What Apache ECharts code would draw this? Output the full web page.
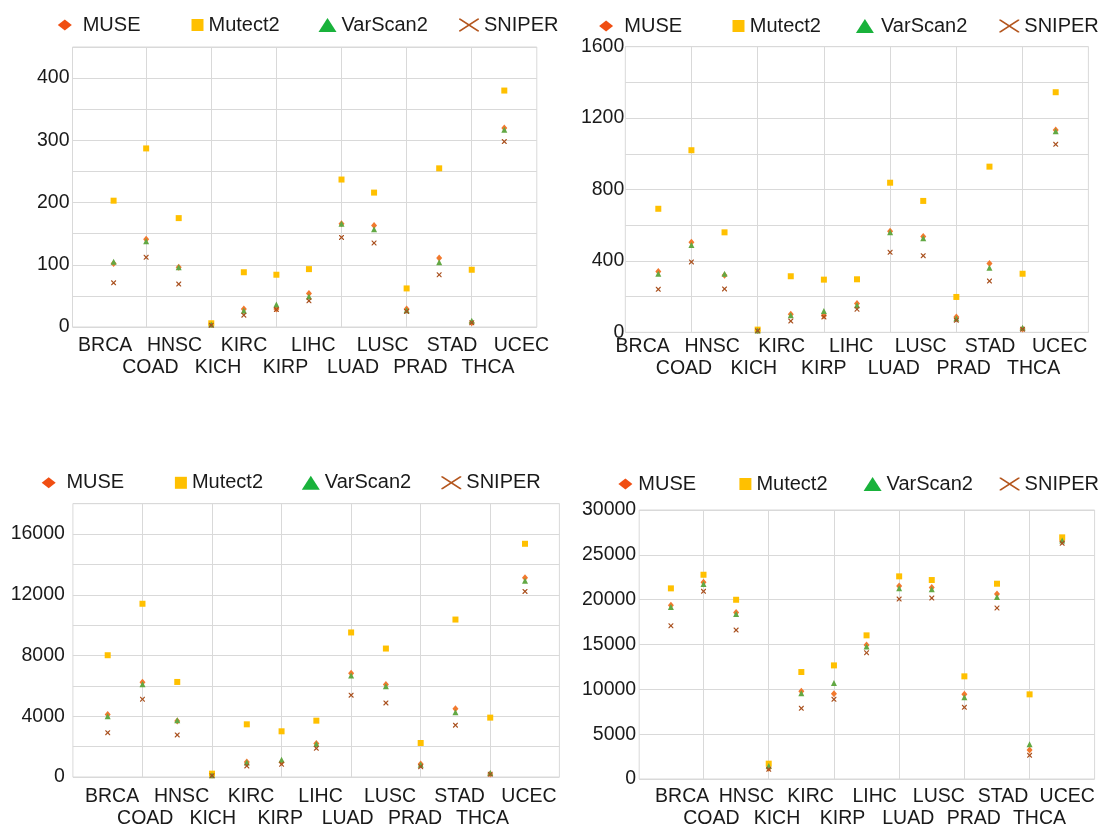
<!DOCTYPE html>
<html><head><meta charset="utf-8">
<script src="https://cdn.jsdelivr.net/npm/echarts@6/dist/echarts.min.js"></script>
<style>html,body{margin:0;padding:0;background:#fff}#c{width:1099px;height:829px}</style>
</head><body><div id="c"></div>
<script>
// ---- data ----
const categories = ['BRCA','COAD','HNSC','KICH','KIRC','KIRP','LIHC','LUAD','LUSC','PRAD','STAD','THCA','UCEC'];
const seriesNames = ['MUSE','Mutect2','VarScan2','SNIPER'];

// panel 1 (top-left)
const p1MUSE     = [102, 141, 96, 4, 29, 29, 54, 166, 163, 29, 111, 7, 320];
const p1Mutect2  = [203, 287, 175, 6, 88, 84, 93, 237, 216, 62, 255, 92, 380];
const p1VarScan2 = [105, 138, 96, 4, 26, 36, 49, 166, 157, 27, 104, 10, 317];
const p1SNIPER   = [71, 112, 69, 3, 19, 28, 42, 144, 135, 25, 84, 7, 298];
const p1Ticks    = [0, 100, 200, 300, 400];

// panel 2 (top-right)
const p2MUSE     = [340, 504, 319, 10, 101, 93, 162, 566, 536, 86, 386, 18, 1133];
const p2Mutect2  = [692, 1020, 560, 15, 314, 295, 297, 838, 736, 198, 928, 328, 1345];
const p2VarScan2 = [328, 489, 328, 10, 95, 119, 151, 560, 527, 78, 362, 26, 1126];
const p2SNIPER   = [241, 394, 243, 8, 63, 86, 129, 448, 429, 67, 287, 17, 1053];
const p2Ticks    = [0, 400, 800, 1200, 1600];

// panel 3 (bottom-left)
const p3MUSE     = [4110, 6240, 3690, 110, 990, 970, 2200, 6840, 6090, 860, 4500, 200, 13120];
const p3Mutect2  = [8020, 11410, 6260, 220, 3470, 3010, 3710, 9520, 8460, 2240, 10370, 3910, 15360];
const p3VarScan2 = [4000, 6110, 3740, 110, 950, 1140, 2180, 6680, 5980, 810, 4260, 260, 12920];
const p3SNIPER   = [2920, 5120, 2770, 90, 730, 840, 1890, 5390, 4880, 680, 3410, 180, 12220];
const p3Ticks    = [0, 4000, 8000, 12000, 16000];

// panel 4 (bottom-right)
const p4MUSE     = [19370, 21930, 18580, 1190, 9780, 9510, 14940, 21520, 21370, 9440, 20630, 3240, 26540];
const p4Mutect2  = [21260, 22780, 19990, 1710, 11930, 12670, 16020, 22600, 22190, 11450, 21780, 9440, 26950];
const p4VarScan2 = [19180, 21740, 18400, 1450, 9550, 10700, 14790, 21260, 21150, 9110, 20290, 3870, 26600];
const p4SNIPER   = [17090, 20930, 16610, 1080, 7880, 8890, 14080, 20070, 20180, 7990, 19070, 2640, 26280];
const p4Ticks    = [0, 5000, 10000, 15000, 20000, 25000, 30000];

// ---- layout / style ----
const FONT = "'Liberation Sans', Arial, sans-serif";
const TXT = '#1a1a1a';
const GRIDC = '#d9d9d9';

function xPath(w, h, t) {
  const c = t * Math.sqrt(w*w + h*h) / 2;
  const a = c / h, b = c / w;
  const pts = [[a,0],[w/2,h/2-c/w],[w-a,0],[w,0],[w,b],[w/2+c/h,h/2],[w,h-b],[w,h],[w-a,h],[w/2,h/2+c/w],[a,h],[0,h],[0,h-b],[w/2-c/h,h/2],[0,b],[0,0]];
  return 'path://M' + pts.map(p => p[0].toFixed(2) + ',' + p[1].toFixed(2)).join('L') + 'Z';
}

const markStyle = {
  MUSE:     {symbol: 'diamond', size: [6, 7], color: '#F2792E'},
  Mutect2:  {symbol: 'rect', size: [6, 6], color: '#FFC000'},
  VarScan2: {symbol: 'triangle', size: [6, 6], color: '#62A844'},
  SNIPER:   {symbol: xPath(10, 10, 2.4), size: [5, 5], color: '#A9501E'}
};
const legendStyle = {
  MUSE:     {icon: 'path://M7,0L14,5.5L7,11L0,5.5Z', w: 14, h: 11, color: '#F04E12'},
  Mutect2:  {icon: 'path://M0,0L12,0L12,12L0,12Z', w: 12, h: 12, color: '#FFC000'},
  VarScan2: {icon: 'path://M9,0L18,14L0,14Z', w: 18, h: 14, color: '#19B23B'},
  SNIPER:   {icon: xPath(20, 13, 1.6), w: 20, h: 13, color: '#B4561E'}
};

const panels = [
  {vals: [p1MUSE, p1Mutect2, p1VarScan2, p1SNIPER], ticks: p1Ticks, yMax: 450, yStep: 50,
   frame: [72.5, 536.8, 47, 327], dataX: [113.6, 504.3], row1: [105.2, 521.4], row2: [116.7, 521.7],
   yMargin: 3, m1: 9, m2: 31, legY: 25, leg: [[70.7, 88.6], [197.5, 208.2], [327.5, 341], [469, 480.4]]},
  {vals: [p2MUSE, p2Mutect2, p2VarScan2, p2SNIPER], ticks: p2Ticks, yMax: 1600, yStep: 200,
   frame: [625.3, 1088.4, 46.7, 332.3], dataX: [658.3, 1055.7], row1: [642.7, 1059.6], row2: [649, 1068.6],
   yMargin: 1, m1: 4, m2: 26, legY: 26, leg: [[612.3, 630.5], [738.8, 750.1], [867, 883.1], [1009.3, 1022.4]]},
  {vals: [p3MUSE, p3Mutect2, p3VarScan2, p3SNIPER], ticks: p3Ticks, yMax: 18000, yStep: 2000,
   frame: [72.9, 559.4, 503.7, 777], dataX: [107.7, 525], row1: [112.1, 529], row2: [111.5, 516.3],
   yMargin: 8, m1: 10, m2: 34, legY: 482.8, leg: [[54.4, 72.1], [180.9, 191.6], [310.8, 324.8], [451.3, 463.2]]},
  {vals: [p4MUSE, p4Mutect2, p4VarScan2, p4SNIPER], ticks: p4Ticks, yMax: 30000, yStep: 5000,
   frame: [639.2, 1094.6, 510, 779], dataX: [670.9, 1062.2], row1: [682.2, 1067.2], row2: [678.5, 1072.3],
   yMargin: 3, m1: 8, m2: 32, legY: 484, leg: [[626.3, 639.2], [745.4, 755.6], [872.6, 885.5], [1009.6, 1020.4]]}
];

const grid = [], xAxis = [], yAxis = [], series = [], legend = [];
panels.forEach((p, k) => {
  const [fl, fr, ft, fb] = p.frame;
  const base = 4 * k;
  const mk = (l, r) => ({left: l, width: r - l, top: ft, height: fb - ft, containLabel: false});
  grid.push(Object.assign(mk(fl, fr), {show: true, borderColor: GRIDC, borderWidth: 1, backgroundColor: 'transparent'}));
  grid.push(mk(p.dataX[0], p.dataX[1]));
  grid.push(mk(p.row1[0], p.row1[1]));
  grid.push(mk(p.row2[0], p.row2[1]));
  // frame axes
  xAxis.push({type: 'value', gridIndex: base, show: false, min: 0, max: 1});
  yAxis.push({type: 'value', gridIndex: base, min: 0, max: p.yMax, interval: p.yStep,
    axisLine: {show: false}, axisTick: {show: false},
    splitLine: {show: true, lineStyle: {color: GRIDC, width: 1}},
    axisLabel: {margin: p.yMargin, fontSize: 19.5, color: TXT, fontFamily: FONT,
      formatter: v => (p.ticks.indexOf(v) >= 0 ? String(v) : '')}});
  // data axes
  xAxis.push({type: 'category', gridIndex: base + 1, data: categories, boundaryGap: false,
    axisLine: {show: false}, axisTick: {show: false}, axisLabel: {show: false},
    splitLine: {show: true, interval: (i) => i % 2 === 1, lineStyle: {color: GRIDC, width: 1}}});
  yAxis.push({type: 'value', gridIndex: base + 1, min: 0, max: p.yMax, show: false});
  // label axes
  [[p.m1, 0], [p.m2, 1]].forEach(([m, par], j) => {
    xAxis.push({type: 'category', gridIndex: base + 2 + j, data: categories, boundaryGap: false,
      axisLine: {show: false}, axisTick: {show: false}, splitLine: {show: false},
      axisLabel: {interval: 0, margin: m, fontSize: 19.5, color: TXT, fontFamily: FONT,
        formatter: (v, i) => (i % 2 === par ? v : '')}});
    yAxis.push({type: 'value', gridIndex: base + 2 + j, show: false, min: 0, max: 1});
  });
  // series
  seriesNames.forEach((name, s) => {
    const st = markStyle[name];
    series.push({type: 'scatter', name, xAxisIndex: base + 1, yAxisIndex: base + 1,
      data: p.vals[s], symbol: st.symbol, symbolSize: st.size, silent: true,
      itemStyle: {color: st.color, opacity: 1}});
    // legend
    const ls = legendStyle[name];
    const [cx, tx] = p.leg[s];
    const w = Math.max(ls.w, 2 * (tx - cx - 5));
    legend.push({show: true, selectedMode: false, padding: 0, orient: 'horizontal',
      left: cx - w / 2, top: p.legY - 10, itemWidth: w, itemHeight: ls.h,
      data: [{name, icon: ls.icon, itemStyle: {color: ls.color, borderWidth: 0}}],
      textStyle: {fontSize: 20, color: TXT, fontFamily: FONT}});
  });
});

const chart = echarts.init(document.getElementById('c'), null, {renderer: 'canvas'});
chart.setOption({animation: false, backgroundColor: '#fff', grid, xAxis, yAxis, series, legend});
</script></body></html>
